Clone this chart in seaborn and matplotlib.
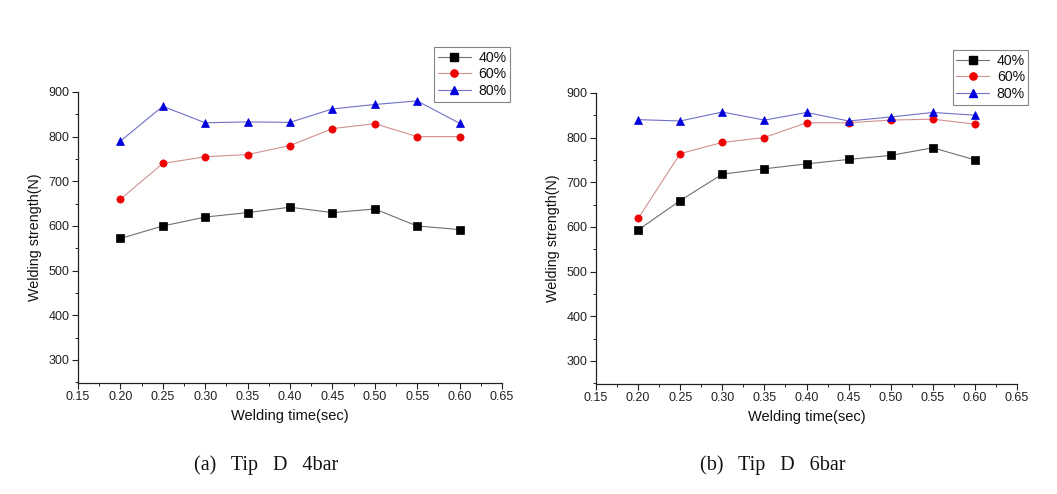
import numpy as np
import pandas as pd
import seaborn as sns
import matplotlib
matplotlib.use("Agg")
import matplotlib.pyplot as plt
from matplotlib.ticker import MultipleLocator

sns.set_theme(style="white")
plt.rcParams['font.family'] = ['Liberation Sans', 'DejaVu Sans']

times = [0.20, 0.25, 0.30, 0.35, 0.40, 0.45, 0.50, 0.55, 0.60]
series_names = ["40%", "60%", "80%"]

# (a) Tip D 4bar
a_40 = [572, 600, 620, 630, 642, 630, 638, 600, 592]
a_60 = [660, 740, 755, 760, 780, 818, 829, 800, 800]
a_80 = [790, 868, 831, 833, 832, 862, 872, 880, 830]

# (b) Tip D 6bar
b_40 = [593, 659, 718, 730, 741, 751, 760, 777, 750]
b_60 = [619, 764, 789, 800, 833, 833, 839, 841, 830]
b_80 = [840, 837, 857, 839, 856, 837, 846, 856, 850]

captions = ["(a)   Tip   D   4bar", "(b)   Tip   D   6bar"]
x_label = "Welding time(sec)"
y_label = "Welding strength(N)"

colors = ["#000000", "#ee0000", "#0000dd"]
line_colors = ["#707070", "#d09090", "#7070c8"]
markers = ["s", "o", "^"]


def make_df(s40, s60, s80):
    rows = []
    for name, vals in zip(series_names, [s40, s60, s80]):
        for t, v in zip(times, vals):
            rows.append({"time": t, "strength": v, "pressure": name})
    return pd.DataFrame(rows)


fig = plt.figure(figsize=(10.57, 4.94), dpi=100)
axes_pos = [[0.0738, 0.2247, 0.4011, 0.5891],
            [0.5639, 0.2227, 0.3983, 0.5894]]
legend_anchor = [(0.4825, 0.9049), (0.9730, 0.8988)]
caption_pos = [(0.2521, 0.058), (0.7308, 0.058)]

for i, data in enumerate([(a_40, a_60, a_80), (b_40, b_60, b_80)]):
    ax = fig.add_axes(axes_pos[i])
    df = make_df(*data)
    sns.lineplot(data=df, x="time", y="strength", hue="pressure",
                 style="pressure", markers=markers, dashes=False,
                 palette=colors, linewidth=0.8, markersize=5.2,
                 markeredgewidth=0.5, ax=ax, legend=False)
    for ln, c, lc in zip(ax.lines, colors, line_colors):
        ln.set_color(lc)
        ln.set_markerfacecolor(c)
        ln.set_markeredgecolor(c)
        ln.set_clip_on(False)
    ax.set_xlim(0.15, 0.65)
    ax.set_ylim(248.5, 900)
    ax.xaxis.set_major_locator(MultipleLocator(0.05))
    ax.xaxis.set_minor_locator(MultipleLocator(0.025))
    ax.set_yticks([300, 400, 500, 600, 700, 800, 900])
    ax.yaxis.set_minor_locator(MultipleLocator(50))
    ax.set_xticklabels([f"{v:.2f}" for v in ax.get_xticks()])
    for s in ["top", "right"]:
        ax.spines[s].set_visible(False)
    for s in ["left", "bottom"]:
        ax.spines[s].set_color("#222222")
        ax.spines[s].set_linewidth(0.9)
    ax.tick_params(axis="both", which="major", direction="out", length=4,
                   width=0.8, color="#222222", labelsize=9, pad=2,
                   labelcolor="#222222", bottom=True, left=True)
    ax.tick_params(axis="both", which="minor", direction="out", length=2.5,
                   width=0.7, color="#222222", bottom=True, left=True)
    ax.set_xlabel(x_label, fontsize=10.5, labelpad=4, color="#111111")
    ax.set_ylabel(y_label, fontsize=10.3, labelpad=5, color="#111111")
    ax.grid(False)

    handles = [plt.Line2D([], [], color=lc, marker=m, linewidth=0.8,
                          markersize=5.2, markerfacecolor=c,
                          markeredgecolor=c)
               for c, lc, m in zip(colors, line_colors, markers)]
    leg = ax.legend(handles, series_names, loc="upper right",
                    bbox_to_anchor=legend_anchor[i],
                    bbox_transform=fig.transFigure,
                    fontsize=10.2, frameon=True, fancybox=False,
                    handlelength=2.3, handletextpad=0.55,
                    borderpad=0.25, labelspacing=0.2, borderaxespad=0)
    leg.get_frame().set_edgecolor("#666666")
    leg.get_frame().set_linewidth(0.8)
    for t in leg.get_texts():
        t.set_color("#111111")

    fig.text(caption_pos[i][0], caption_pos[i][1], captions[i],
             ha="center", va="center", fontsize=14.5, color="#111111",
             family=["Liberation Serif", "DejaVu Serif"])

fig.savefig("out.png", dpi=100, facecolor="white")
